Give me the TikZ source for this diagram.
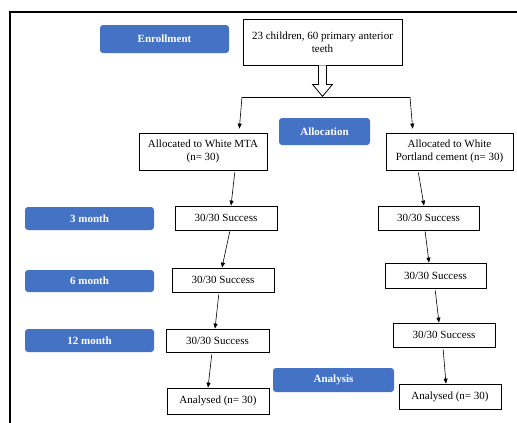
\documentclass[tikz,border=0pt]{standalone}
\usepackage{fontspec}
\setmainfont{Liberation Serif}
\usetikzlibrary{positioning,calc,arrows.meta}
\definecolor{phaseblue}{HTML}{4472C4}

\begin{document}
\begin{tikzpicture}[
    x=1pt, y=-1pt,
    box/.style={draw, line width=0.8pt, align=center, inner sep=1pt, font=\fontsize{11}{13}\selectfont},
    phase/.style={fill=phaseblue, rounded corners=3pt, text=white, align=center, font=\fontsize{11}{13}\selectfont\bfseries},
    arr/.style={-{Triangle[length=5pt,width=4pt]}, line width=0.6pt}
]
\useasboundingbox (0,0) rectangle (517,423);

% ===== Frame =====
\draw[line width=2pt] (10,423) -- (10,12) -- (517,12);

% ===== Phase labels (blue) =====
\node[phase, minimum width=129pt, minimum height=28pt] (enroll) at (164.5,39) {Enrollment};
\node[phase, minimum width=91pt, minimum height=27pt] (alloc) at (324.5,131.5) {Allocation};
\node[phase, minimum width=129pt, minimum height=23pt] (m3) at (89.5,218.5) {3 month};
\node[phase, minimum width=129pt, minimum height=22pt] (m6) at (89.5,281) {6 month};
\node[phase, minimum width=129pt, minimum height=23pt] (m12) at (89.5,340.5) {12 month};
\node[phase, minimum width=121pt, minimum height=24pt] (analysis) at (333.5,380) {Analysis};

% ===== Enrollment box =====
\node[box, minimum width=159pt, minimum height=46pt] (teeth) at (322.5,42) {23 children, 60 primary anterior\\teeth};

% Hollow arrow down to the split
\draw[line width=0.8pt, fill=white] ([xshift=-4pt]teeth.south) -- ++(0,19) -- ++(-6,0)
    -- ++(10,12) -- ++(10,-12) -- ++(-6,0) -- ([xshift=4pt]teeth.south);

% ===== Groups =====
\node[box, minimum width=128pt, minimum height=37pt] (mta) at (203,151.5) {Allocated to White MTA\\(n= 30)};
\node[box, minimum width=127pt, minimum height=37pt] (wpc) at (449.5,151.5) {Allocated to White\\Portland cement (n= 30)};

% Split line
\coordinate (jl) at (242,97);
\coordinate (jr) at (410,97);
\draw[line width=0.6pt] (jl) -- (jr);
\draw[arr, shorten >=4pt] (jl) -- ([xshift=36pt]mta.north);
\draw[arr, shorten >=4pt] (jr) -- ([xshift=-36.5pt]wpc.north);

% ===== MTA follow-up =====
\node[box, minimum width=102pt, minimum height=24pt] (L1) at (226,218) {30/30 Success};
\node[box, minimum width=102pt, minimum height=24pt] (L2) at (223,280) {30/30 Success};
\node[box, minimum width=103pt, minimum height=23pt] (L3) at (217.5,340.5) {30/30 Success};
\node[box, minimum width=102pt, minimum height=26pt] (LA) at (218,401) {Analysed (n= 30)};

\draw[arr, shorten <=2pt] ([xshift=32pt]mta.south) -- ([xshift=5pt]L1.north);
\draw[arr, shorten <=1pt] ([xshift=4pt]L1.south) -- ([xshift=-1pt]L2.north);
\draw[arr, shorten <=2pt] ([xshift=-4pt]L2.south) -- ([xshift=-2.5pt]L3.north);
\draw[arr, shorten <=2pt] ([xshift=-5.5pt]L3.south) -- ([xshift=-10pt]LA.north);

% ===== White Portland cement follow-up =====
\node[box, minimum width=101pt, minimum height=24pt] (R1) at (428.5,218) {30/30 Success};
\node[box, minimum width=101pt, minimum height=25pt] (R2) at (435.5,275.5) {30/30 Success};
\node[box, minimum width=102pt, minimum height=24pt] (R3) at (444,335) {30/30 Success};
\node[box, minimum width=102pt, minimum height=25pt] (RA) at (450,396.5) {Analysed (n= 30)};

\draw[arr, shorten <=2pt] ([xshift=-31.5pt]wpc.south) -- ([xshift=-4.5pt]R1.north);
\draw[arr, shorten <=1pt] ([xshift=-3.5pt]R1.south) -- ([xshift=-6.5pt]R2.north);
\draw[arr, shorten <=2pt] ([xshift=-0.5pt]R2.south) -- ([xshift=-5pt]R3.north);
\draw[arr, shorten <=2pt] ([xshift=-1pt]R3.south) -- ([xshift=-4pt]RA.north);

\end{tikzpicture}
\end{document}
